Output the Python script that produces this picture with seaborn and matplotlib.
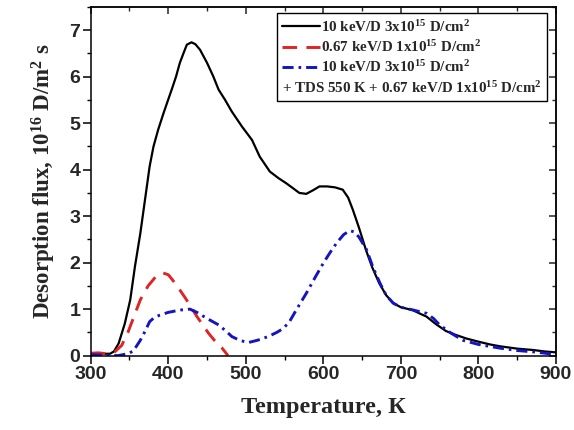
import numpy as np
import pandas as pd
import matplotlib
matplotlib.use("Agg")
import matplotlib.pyplot as plt
from matplotlib.lines import Line2D
from matplotlib.ticker import MultipleLocator
import seaborn as sns

# ---- data ----
t_black = [300, 310, 320, 325, 330, 336, 344, 351, 357, 364, 370, 376, 381, 387, 394, 400, 405, 410,
           415, 420, 424, 430, 435, 441, 450, 458, 465, 473, 482, 495, 508, 518, 531, 542, 552,
           561, 569, 578, 587, 595, 605, 615, 625, 632, 638, 646, 655, 663, 672, 681, 690,
           700, 715, 725, 733, 745, 758, 770, 784, 800, 815, 828, 850, 871, 885, 900]
v_black = [0.05, 0.04, 0.04, 0.04, 0.09, 0.26, 0.69, 1.20, 1.91, 2.63, 3.35, 4.07, 4.50, 4.86, 5.22, 5.51, 5.75, 6.00,
           6.30, 6.52, 6.69, 6.74, 6.70, 6.58, 6.30, 6.01, 5.72, 5.51, 5.25, 4.93, 4.64, 4.28, 3.96, 3.82, 3.71,
           3.60, 3.50, 3.48, 3.56, 3.64, 3.64, 3.62, 3.57, 3.40, 3.14, 2.75, 2.27, 1.90, 1.56, 1.30, 1.13,
           1.04, 0.98, 0.90, 0.84, 0.68, 0.53, 0.45, 0.37, 0.30, 0.24, 0.20, 0.15, 0.12, 0.09, 0.07]

t_red = [300, 310, 320, 331, 340, 348, 356, 364, 374, 384, 393, 400, 405, 413, 422, 430,
         437, 445, 452, 460, 469, 477]
v_red = [0.05, 0.06, 0.04, 0.08, 0.22, 0.50, 0.85, 1.20, 1.50, 1.70, 1.78, 1.74, 1.64, 1.46, 1.24, 1.03,
         0.84, 0.65, 0.48, 0.32, 0.17, 0.00]

t_blue = [300, 320, 335, 348, 355, 364, 370, 376, 382, 389, 400, 415, 428, 437, 450, 465, 475,
          482, 492, 503, 515, 529, 540, 548, 556, 565, 578, 590, 600, 608, 617, 626, 634,
          640, 646, 656, 664, 673, 681, 690, 700, 716, 733, 742, 750, 765, 780, 800, 828,
          850, 871, 897]
v_blue = [0.02, 0.01, 0.00, 0.04, 0.10, 0.33, 0.52, 0.73, 0.82, 0.87, 0.93, 0.98, 1.00, 0.93, 0.80, 0.66, 0.52,
          0.41, 0.33, 0.28, 0.33, 0.41, 0.50, 0.58, 0.72, 0.98, 1.34, 1.70, 1.99, 2.20, 2.42, 2.60, 2.69,
          2.66, 2.55, 2.27, 1.90, 1.56, 1.30, 1.13, 1.04, 0.98, 0.91, 0.80, 0.66, 0.48, 0.33, 0.24, 0.16,
          0.11, 0.08, 0.03]

labels = [r"10 keV/D 3x10$^{15}$ D/cm$^{2}$",
          r"0.67 keV/D 1x10$^{15}$ D/cm$^{2}$",
          r"10 keV/D 3x10$^{15}$ D/cm$^{2}$",
          r"+ TDS 550 K + 0.67 keV/D 1x10$^{15}$ D/cm$^{2}$"]
x_label = "Temperature, К"
y_label = r"Desorption flux, 10$^{16}$ D/m$^{2}$ s"

# ---- style ----
sns.set_theme(style="ticks")
plt.rcParams.update({
    "font.family": ["Liberation Serif", "DejaVu Serif"],
    "font.weight": "bold",
    "mathtext.fontset": "custom",
    "mathtext.rm": "Liberation Serif:bold",
    "mathtext.it": "Liberation Serif:bold",
    "mathtext.bf": "Liberation Serif:bold",
    "mathtext.default": "rm",
})

fig = plt.figure(figsize=(5.74, 4.30), dpi=100)
ax = fig.add_axes([0.158, 0.173, 0.8106, 0.8107])

sns.lineplot(x=t_black, y=v_black, ax=ax, color="black", lw=1.6, label=labels[0], sort=False)
sns.lineplot(x=t_red, y=v_red, ax=ax, color="#e02424", lw=2.1, label=labels[1], sort=False)
sns.lineplot(x=t_blue, y=v_blue, ax=ax, color="#1414c0", lw=2.1, label=labels[2], sort=False)
lines = ax.get_lines()
lines[1].set_dashes([5, 3.2])
lines[2].set_dashes([3.8, 1.7, 0.9, 1.7])

ax.set_xlim(300, 900)
ax.set_ylim(0, 7.5)
ax.xaxis.set_major_locator(MultipleLocator(100))
ax.xaxis.set_minor_locator(MultipleLocator(50))
ax.yaxis.set_major_locator(MultipleLocator(1))
ax.yaxis.set_minor_locator(MultipleLocator(0.5))
ax.set_xticks([300, 400, 500, 600, 700, 800, 900])
ax.set_yticks([0, 1, 2, 3, 4, 5, 6, 7])

for sp in ax.spines.values():
    sp.set_visible(True)
    sp.set_linewidth(1.1)
    sp.set_color("black")

ax.tick_params(axis="both", which="major", direction="out", length=5.5, width=1.1,
               labelsize=14, color="black", pad=2)
ax.tick_params(axis="both", which="minor", direction="out", length=3, width=1.0, color="black")
for lab in ax.get_xticklabels() + ax.get_yticklabels():
    lab.set_fontfamily(["Liberation Sans", "DejaVu Sans"])
    lab.set_fontweight("bold")

# mirrored inward ticks on top and right
secx = ax.secondary_xaxis("top")
secx.xaxis.set_major_locator(MultipleLocator(100))
secx.xaxis.set_minor_locator(MultipleLocator(50))
secx.tick_params(which="major", direction="in", length=5, width=1.1, labeltop=False)
secx.tick_params(which="minor", direction="in", length=3, width=1.0)
secx.spines["top"].set_linewidth(1.1)
secy = ax.secondary_yaxis("right")
secy.yaxis.set_major_locator(MultipleLocator(1))
secy.yaxis.set_minor_locator(MultipleLocator(0.5))
secy.tick_params(which="major", direction="in", length=5, width=1.1, labelright=False)
secy.tick_params(which="minor", direction="in", length=3, width=1.0)
secy.spines["right"].set_linewidth(1.1)

ax.set_xlabel(x_label, fontsize=17.5, fontweight="bold", labelpad=10)
ax.set_ylabel(y_label, fontsize=16.5, fontweight="bold", labelpad=8)

handles = lines[:3] + [Line2D([], [], color="none")]
leg = ax.legend(handles, labels, loc="upper right", bbox_to_anchor=(0.987, 0.99),
                frameon=True, fancybox=False, edgecolor="black", framealpha=1,
                prop={"family": "Liberation Serif", "weight": "bold", "size": 10.8},
                handlelength=2.5, handletextpad=0.1, labelspacing=0.3,
                borderpad=0.35, borderaxespad=0.2)
leg.get_frame().set_linewidth(1.0)
# last entry has no sample: collapse its handle box so the text starts at the left
try:
    col = leg._legend_handle_box.get_children()[0]
    row = col.get_children()[3]
    da = row.get_children()[0]
    da.width = 0
    row.sep = 0
except Exception:
    pass

fig.savefig("out.png", dpi=100)
